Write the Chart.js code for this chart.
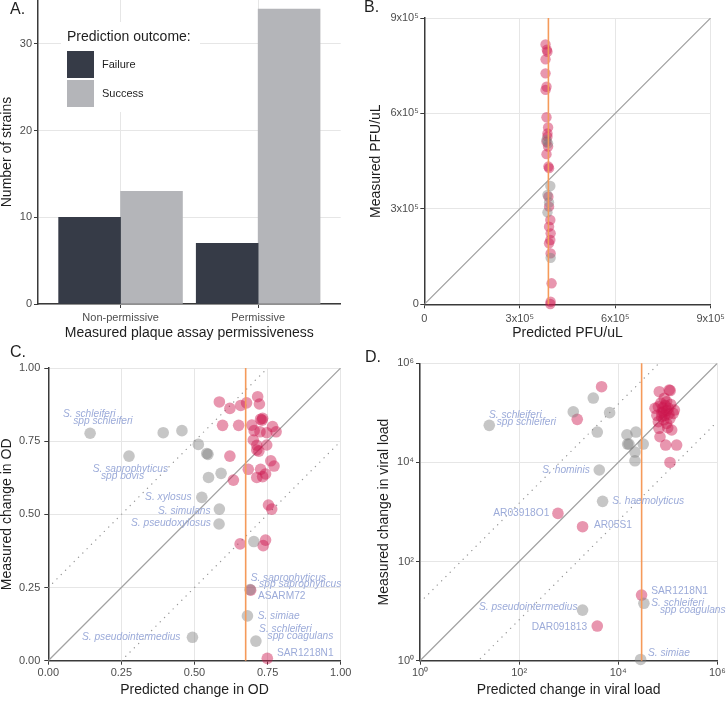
<!DOCTYPE html>
<html>
<head>
<meta charset="utf-8">
<title>Prediction outcomes</title>
<script src="https://cdn.jsdelivr.net/npm/chart.js@4.4.1/dist/chart.umd.min.js"></script>
<style>
  body { margin: 0; background: #fff; }
  .panel { position: absolute; }
</style>
</head>
<body>
<canvas id="panelA" class="panel" width="364" height="340" style="left:0;top:0"></canvas>
<canvas id="panelB" class="panel" width="363" height="340" style="left:364px;top:0"></canvas>
<canvas id="panelC" class="panel" width="364" height="363" style="left:0;top:340px"></canvas>
<canvas id="panelD" class="panel" width="363" height="363" style="left:364px;top:340px"></canvas>
<script>
// ---- panel A data ----
const outcomes = ['Failure', 'Success'];
const permissiveness = ['Non-permissive', 'Permissive'];
const failureCounts = [10, 7];
const successCounts = [13, 34];
const countTicks = [0, 10, 20, 30];
const countMinorTicks = [5, 15, 25];

// ---- panel B data (PFU/uL) ----
const pfuTicks = [0, 3e5, 6e5, 9e5];
const pfuMinorTicks = [1.5e5, 4.5e5, 7.5e5];
const pfuThreshold = 3.9e5;
const pfuRedPredicted = [381e3, 385e3, 387e3, 381e3, 381e3, 384e3, 381e3, 384e3, 389e3, 387e3, 387e3, 384e3, 389e3, 384e3, 390e3, 392e3, 390e3, 392e3, 396e3, 392e3, 397e3, 396e3, 392e3, 397e3, 400e3, 397e3, 396e3];
const pfuRedMeasured = [817e3, 800e3, 794e3, 770e3, 726e3, 684e3, 674e3, 588e3, 556e3, 537e3, 527e3, 511e3, 496e3, 472e3, 433e3, 428e3, 338e3, 307e3, 265e3, 244e3, 223e3, 202e3, 192e3, 160e3, 66e3, 8e3, 1e3];
const pfuGreyPredicted = [384e3, 389e3, 396e3, 387e3, 392e3, 387e3, 397e3];
const pfuGreyMeasured = [517e3, 506e3, 372e3, 344e3, 320e3, 289e3, 146e3];

// ---- panel C data (change in OD) ----
const odTicks = [0, 0.25, 0.5, 0.75, 1];
const odMinorTicks = [0.125, 0.375, 0.625, 0.875];
const odThreshold = 0.675;
const odBand = 0.25;
const odRedPredicted = [0.585, 0.621, 0.658, 0.678, 0.716, 0.722, 0.596, 0.651, 0.696, 0.726, 0.731, 0.733, 0.704, 0.724, 0.747, 0.767, 0.779, 0.701, 0.713, 0.747, 0.713, 0.720, 0.621, 0.761, 0.772, 0.684, 0.726, 0.713, 0.733, 0.743, 0.633, 0.753, 0.764, 0.656, 0.743, 0.735, 0.692, 0.749];
const odRedMeasured = [0.884, 0.862, 0.872, 0.881, 0.902, 0.877, 0.804, 0.804, 0.805, 0.825, 0.822, 0.828, 0.786, 0.782, 0.779, 0.800, 0.782, 0.754, 0.736, 0.737, 0.720, 0.716, 0.699, 0.683, 0.665, 0.654, 0.654, 0.626, 0.629, 0.638, 0.617, 0.532, 0.518, 0.399, 0.412, 0.393, 0.241, 0.008];
const odGreyPredicted = [0.143, 0.276, 0.393, 0.457, 0.513, 0.542, 0.546, 0.548, 0.591, 0.525, 0.585, 0.584, 0.703, 0.690, 0.681, 0.710, 0.493];
const odGreyMeasured = [0.777, 0.699, 0.779, 0.786, 0.739, 0.708, 0.705, 0.626, 0.640, 0.558, 0.518, 0.467, 0.407, 0.243, 0.153, 0.067, 0.080];

// ---- panel D data (change in viral load) ----
const loadTicks = [1, 1e2, 1e4, 1e6];
const loadMinorTicks = [10, 1e3, 1e5];
const loadThreshold = 2.97e4;
const loadBandFactor = 15;
const loadRedPredicted = [4620, 1490, 608, 1910, 3780, 2.96e4, 6.76e4, 1.07e5, 1.12e5, 6.46e4, 9.5e4, 1.36e5, 8.13e4, 1.03e5, 5.53e4, 7.53e4, 1.11e5, 6.46e4, 9.5e4, 1.2e5, 6.65e4, 6.97e4, 9.08e4, 1.51e5, 1.11e5, 1.29e5, 8.51e4, 8.9e4, 7.94e4, 9.55e4, 7.59e4, 1.05e5, 8.71e4, 7.24e4, 1.15e5, 8.32e4, 6.03e4, 1.0e5];
const loadRedMeasured = [3.37e5, 7.4e4, 938, 505, 5.0, 21.1, 2.67e5, 2.89e5, 2.82e5, 1.33e5, 1.68e5, 1.14e5, 1.05e5, 1.24e5, 1.24e5, 8.38e4, 7.76e4, 6.64e4, 6.15e4, 4.51e4, 4.88e4, 3.3e4, 2.24e4, 2.24e4, 1.0e4, 9.77e4, 1.96e5, 1.41e5, 1.26e5, 1.12e5, 1.0e5, 9.55e4, 8.91e4, 1.58e5, 1.48e5, 7.24e4, 8.91e4, 5.01e4];
const loadGreyPredicted = [25, 1240, 3140, 6710, 3780, 1.5e4, 2.28e4, 1.65e4, 1.55e4, 3.2e4, 2.18e4, 2.18e4, 4150, 4840, 1910, 3.3e4, 2.83e4];
const loadGreyMeasured = [5.6e4, 1.05e5, 1.99e5, 1.01e5, 4.1e4, 3.62e4, 4.1e4, 2.35e4, 2.35e4, 2.35e4, 1.62e4, 1.08e4, 7030, 1640, 10.5, 14.4, 1.06];

// strain name annotations (placed like the repelled labels, in data units)
const odLabels = [
  { text: 'S. schleiferi', italic: true, x: 0.050, y: 0.843 },
  { text: 'spp schleiferi', italic: true, x: 0.085, y: 0.818 },
  { text: 'S. saprophyticus', italic: true, x: 0.152, y: 0.654 },
  { text: 'spp bovis', italic: true, x: 0.180, y: 0.629 },
  { text: 'S. xylosus', italic: true, x: 0.331, y: 0.560 },
  { text: 'S. simulans', italic: true, x: 0.375, y: 0.512 },
  { text: 'S. pseudoxylosus', italic: true, x: 0.283, y: 0.470 },
  { text: 'S. saprophyticus', italic: true, x: 0.692, y: 0.283 },
  { text: 'spp saprophyticus', italic: true, x: 0.721, y: 0.260 },
  { text: 'ASARM72', italic: false, x: 0.717, y: 0.221 },
  { text: 'S. simiae', italic: true, x: 0.716, y: 0.153 },
  { text: 'S. schleiferi', italic: true, x: 0.721, y: 0.107 },
  { text: 'spp coagulans', italic: true, x: 0.750, y: 0.084 },
  { text: 'SAR1218N1', italic: false, x: 0.782, y: 0.025 },
  { text: 'S. pseudointermedius', italic: true, x: 0.115, y: 0.079 }
];
const loadLabels = [
  { text: 'S. schleiferi', italic: true, x: 24.7, y: 9.04e4 },
  { text: 'spp schleiferi', italic: true, x: 35.2, y: 6.64e4 },
  { text: 'S. hominis', italic: true, x: 294, y: 7030 },
  { text: 'S. haemolyticus', italic: true, x: 7590, y: 1660 },
  { text: 'AR03918O1', italic: false, x: 30.1, y: 938 },
  { text: 'AR05S1', italic: false, x: 3240, y: 537 },
  { text: 'SAR1218N1', italic: false, x: 4.65e4, y: 24.7 },
  { text: 'S. schleiferi', italic: true, x: 4.65e4, y: 14.4 },
  { text: 'spp coagulans', italic: true, x: 6.95e4, y: 10.5 },
  { text: 'S. pseudointermedius', italic: true, x: 15.5, y: 12.3 },
  { text: 'DAR091813', italic: false, x: 179, y: 4.85 },
  { text: 'S. simiae', italic: true, x: 3.98e4, y: 1.41 }
];

// ---- styling ----
const FONT = "'Liberation Sans', Arial, sans-serif";
const AXIS_COLOR = '#3a3a3a';
const GRID_MAJOR = '#e6e6e6';
const GRID_MINOR = '#f1f1f1';
const TICK_COLOR = '#4d4d4d';
const TITLE_COLOR = '#1e1e1e';
const LABEL_COLOR = '#9cabd9';
const FAILURE_COLOR = '#363b47';
const SUCCESS_COLOR = '#b4b5b9';
const RED = 'rgba(204, 22, 77, 0.45)';
const GREY = 'rgba(128, 128, 128, 0.45)';
const ORANGE = '#f59a5a';
const SUP = { 0: '\u2070', 2: '\u00b2', 4: '\u2074', 5: '\u2075', 6: '\u2076' };

Chart.defaults.font.family = FONT;
Chart.defaults.color = TICK_COLOR;
Chart.defaults.animation = false;
Chart.defaults.plugins.legend.display = false;
Chart.defaults.plugins.tooltip.enabled = false;

function makeAxis({ type = 'linear', min, max, major, minor, format, title, size, horizontal, tickPad, titlePad }) {
  return {
    type, min, max,
    offset: false,
    afterBuildTicks: s => { s.ticks = major.concat(minor).sort((a, b) => a - b).map(v => ({ value: v })); },
    afterFit: s => {
      if (horizontal) s.height = size; else s.width = size;
      // plot area is fixed by the layout padding, not by label overhang
      s.paddingTop = s.paddingBottom = s.paddingLeft = s.paddingRight = 0;
    },
    border: { color: AXIS_COLOR, width: 1.5 },
    grid: {
      offset: false,
      color: c => major.includes(c.tick.value) ? GRID_MAJOR : GRID_MINOR,
      lineWidth: 1,
      tickLength: 4,
      tickWidth: 1,
      tickColor: c => major.includes(c.tick.value) ? AXIS_COLOR : 'rgba(0,0,0,0)'
    },
    ticks: {
      autoSkip: false, maxRotation: 0, padding: tickPad, color: TICK_COLOR, font: { size: 11 },
      callback: v => major.includes(v) ? format(v) : null
    },
    title: { display: true, text: title, color: TITLE_COLOR, font: { size: 14, lineHeight: 1 }, padding: titlePad }
  };
}

function pairs(xs, ys) {
  return xs.map((x, i) => ({ x, y: ys[i] }));
}

function pointSet(xs, ys, color, radius) {
  return { data: pairs(xs, ys), backgroundColor: color, borderWidth: 0, pointRadius: radius, clip: false };
}

function lineSet(data, color, width, dash) {
  return { data, showLine: true, pointRadius: 0, borderColor: color, borderWidth: width, borderDash: dash || [], borderCapStyle: 'round' };
}

const panelTag = {
  id: 'panelTag',
  afterDraw(chart, args, o) {
    const ctx = chart.ctx;
    ctx.save();
    ctx.font = '16px ' + FONT;
    ctx.fillStyle = '#1e1e1e';
    ctx.textBaseline = 'alphabetic';
    ctx.fillText(o.text, o.x, o.y);
    ctx.restore();
  }
};

const strainLabels = {
  id: 'strainLabels',
  afterDatasetsDraw(chart, args, o) {
    if (!o.items) return;
    const { ctx, scales: { x, y } } = chart;
    ctx.save();
    ctx.fillStyle = LABEL_COLOR;
    ctx.textBaseline = 'middle';
    ctx.textAlign = 'left';
    o.items.forEach(it => {
      ctx.font = (it.italic ? 'italic ' : '') + '10.2px ' + FONT;
      ctx.fillText(it.text, x.getPixelForValue(it.x), y.getPixelForValue(it.y));
    });
    ctx.restore();
  }
};

const outcomeLegend = {
  id: 'outcomeLegend',
  beforeDatasetsDraw(chart, args, o) {
    const ctx = chart.ctx;
    const ds = chart.data.datasets;
    ctx.save();
    ctx.fillStyle = '#fff';
    ctx.fillRect(61, 22, 139, 90);
    ctx.fillStyle = TITLE_COLOR;
    ctx.font = '14px ' + FONT;
    ctx.textBaseline = 'middle';
    ctx.fillText(o.title, 67, 37);
    ds.forEach((d, i) => {
      const top = 51 + i * 29;
      ctx.fillStyle = d.backgroundColor;
      ctx.fillRect(67, top, 27, 27);
      ctx.fillStyle = TITLE_COLOR;
      ctx.font = '11px ' + FONT;
      ctx.fillText(d.label, 102, top + 14);
    });
    ctx.restore();
  }
};

// ---- A: bar chart ----
const DODGE = 0.225;
new Chart(document.getElementById('panelA'), {
  type: 'bar',
  data: {
    datasets: [
      { label: outcomes[0], data: failureCounts.map((v, i) => ({ x: i + 1 - DODGE, y: v })), backgroundColor: FAILURE_COLOR },
      { label: outcomes[1], data: successCounts.map((v, i) => ({ x: i + 1 + DODGE, y: v })), backgroundColor: SUCCESS_COLOR }
    ]
  },
  options: {
    responsive: false,
    layout: { autoPadding: false, padding: { left: 0, right: 23.3, top: 0, bottom: 0 } },
    datasets: { bar: { grouped: false, barPercentage: 1, categoryPercentage: 1 } },
    scales: {
      x: makeAxis({ min: 0.4, max: 2.6, major: [1, 2], minor: [], format: v => permissiveness[v - 1],
        title: 'Measured plaque assay permissiveness', size: 36, horizontal: true, tickPad: 3, titlePad: { bottom: 0 } }),
      y: makeAxis({ min: 0, max: 35.06, major: countTicks, minor: countMinorTicks, format: v => String(v),
        title: 'Number of strains', size: 38, tickPad: 2, titlePad: { top: 0 } })
    },
    plugins: {
      panelTag: { text: 'A.', x: 10, y: 14 },
      outcomeLegend: { title: 'Prediction outcome:' }
    }
  },
  plugins: [panelTag, outcomeLegend]
});

// ---- B: PFU/uL ----
const pfuFormat = v => v === 0 ? '0' : (v / 1e5) + 'x10' + SUP[5];
new Chart(document.getElementById('panelB'), {
  type: 'scatter',
  data: {
    datasets: [
      lineSet([{ x: pfuThreshold, y: pfuTicks[0] }, { x: pfuThreshold, y: pfuTicks[3] }], ORANGE, 1.6),
      pointSet(pfuGreyPredicted, pfuGreyMeasured, GREY, 5.2),
      pointSet(pfuRedPredicted, pfuRedMeasured, RED, 5.2),
      lineSet([{ x: pfuTicks[0], y: pfuTicks[0] }, { x: pfuTicks[3], y: pfuTicks[3] }], '#a3a3a3', 1.3)
    ]
  },
  options: {
    responsive: false,
    layout: { autoPadding: false, padding: { left: 0, right: 16.3, top: 18, bottom: 0 } },
    scales: {
      x: makeAxis({ min: 0, max: 9e5, major: pfuTicks, minor: pfuMinorTicks, format: pfuFormat,
        title: 'Predicted PFU/uL', size: 35.7, horizontal: true, tickPad: 4, titlePad: { bottom: 0 } }),
      y: makeAxis({ min: 0, max: 9e5, major: pfuTicks, minor: pfuMinorTicks, format: pfuFormat,
        title: 'Measured PFU/uL', size: 60.3, tickPad: 1.5, titlePad: { top: 5 } })
    },
    plugins: { panelTag: { text: 'B.', x: 0, y: 12 } }
  },
  plugins: [panelTag]
});

// ---- C: change in OD ----
const odFormat = v => v.toFixed(2);
new Chart(document.getElementById('panelC'), {
  type: 'scatter',
  data: {
    datasets: [
      lineSet([{ x: odThreshold, y: 0 }, { x: odThreshold, y: 1 }], ORANGE, 1.6),
      pointSet(odGreyPredicted, odGreyMeasured, GREY, 5.8),
      pointSet(odRedPredicted, odRedMeasured, RED, 5.8),
      lineSet([{ x: 0, y: 0 }, { x: 1, y: 1 }], '#a3a3a3', 1.3),
      lineSet([{ x: 0, y: odBand }, { x: 1 - odBand, y: 1 }], '#9a9a9a', 1.3, [0.1, 6]),
      lineSet([{ x: odBand, y: 0 }, { x: 1, y: 1 - odBand }], '#9a9a9a', 1.3, [0.1, 6])
    ]
  },
  options: {
    responsive: false,
    layout: { autoPadding: false, padding: { left: 0, right: 23.3, top: 28, bottom: 0 } },
    scales: {
      x: makeAxis({ min: 0, max: 1, major: odTicks, minor: odMinorTicks, format: odFormat,
        title: 'Predicted change in OD', size: 42.3, horizontal: true, tickPad: 2, titlePad: { bottom: 6 } }),
      y: makeAxis({ min: 0, max: 1, major: odTicks, minor: odMinorTicks, format: odFormat,
        title: 'Measured change in OD', size: 48.3, tickPad: 4, titlePad: { top: 0.5 } })
    },
    plugins: {
      panelTag: { text: 'C.', x: 10, y: 17 },
      strainLabels: { items: odLabels }
    }
  },
  plugins: [panelTag, strainLabels]
});

// ---- D: change in viral load ----
const loadFormat = v => '10' + SUP[Math.round(Math.log10(v))];
new Chart(document.getElementById('panelD'), {
  type: 'scatter',
  data: {
    datasets: [
      lineSet([{ x: loadThreshold, y: loadTicks[0] }, { x: loadThreshold, y: loadTicks[3] }], ORANGE, 1.6),
      pointSet(loadGreyPredicted, loadGreyMeasured, GREY, 5.8),
      pointSet(loadRedPredicted, loadRedMeasured, RED, 5.8),
      lineSet([{ x: loadTicks[0], y: loadTicks[0] }, { x: loadTicks[3], y: loadTicks[3] }], '#a3a3a3', 1.3),
      lineSet([{ x: loadTicks[0], y: loadTicks[0] * loadBandFactor }, { x: loadTicks[3], y: loadTicks[3] * loadBandFactor }], '#9a9a9a', 1.3, [0.1, 6]),
      lineSet([{ x: loadTicks[0], y: loadTicks[0] / loadBandFactor }, { x: loadTicks[3], y: loadTicks[3] / loadBandFactor }], '#9a9a9a', 1.3, [0.1, 6])
    ]
  },
  options: {
    responsive: false,
    layout: { autoPadding: false, padding: { left: 0, right: 9.7, top: 23.3, bottom: 0 } },
    scales: {
      x: makeAxis({ type: 'logarithmic', min: 1, max: 1e6, major: loadTicks, minor: loadMinorTicks, format: loadFormat,
        title: 'Predicted change in viral load', size: 42.3, horizontal: true, tickPad: 2, titlePad: { bottom: 6 } }),
      y: makeAxis({ type: 'logarithmic', min: 1, max: 1e6, major: loadTicks, minor: loadMinorTicks, format: loadFormat,
        title: 'Measured change in viral load', size: 56, tickPad: 2, titlePad: { top: 13 } })
    },
    plugins: {
      panelTag: { text: 'D.', x: 1, y: 22 },
      strainLabels: { items: loadLabels }
    }
  },
  plugins: [panelTag, strainLabels]
});
</script>
</body>
</html>
